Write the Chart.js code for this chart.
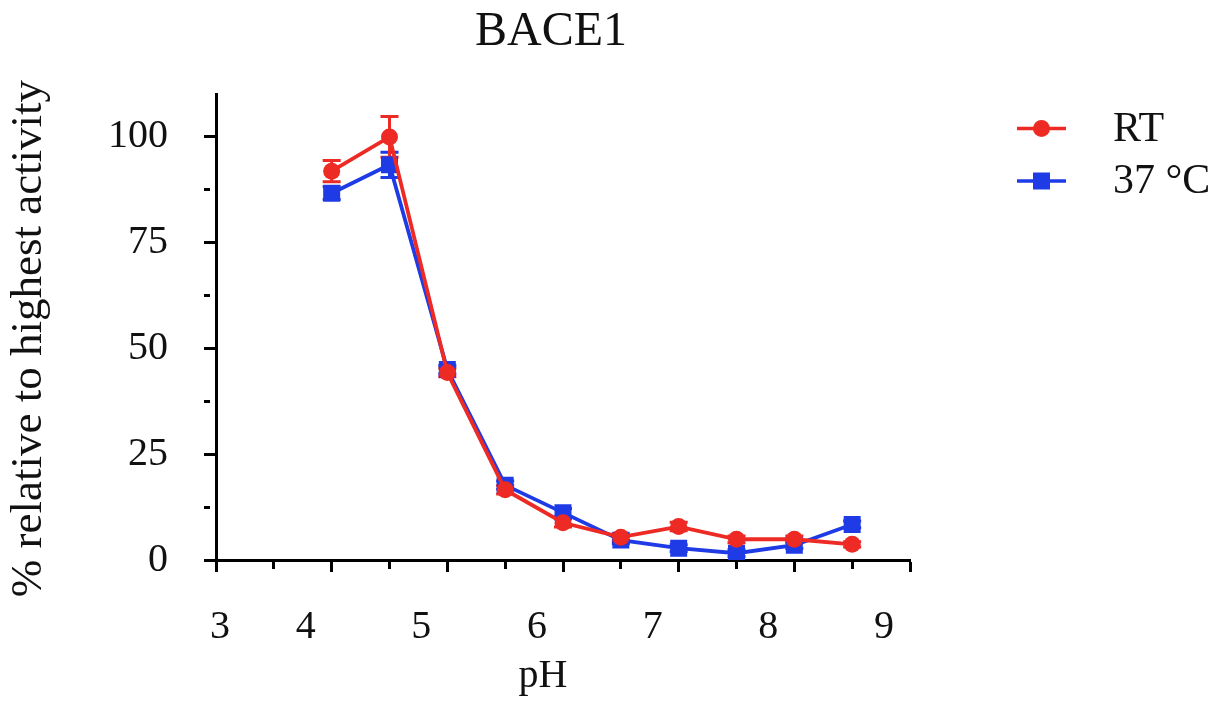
<!DOCTYPE html>
<html>
<head>
<meta charset="utf-8">
<title>BACE1</title>
<script src="https://cdn.jsdelivr.net/npm/chart.js@4.4.1/dist/chart.umd.min.js"></script>
<style>
  html, body { margin: 0; padding: 0; background: #fff; }
  #wrap { width: 1223px; height: 704px; }
</style>
</head>
<body>
<div id="wrap"><canvas id="bace1Chart" width="1223" height="704"></canvas></div>
<script>
/* =========================
   DATA
========================= */
const phValues = [4, 4.5, 5, 5.5, 6, 6.5, 7, 7.5, 8, 8.5];
const rtValues = [91.9, 100, 44.3, 16.6, 8.8, 5.4, 7.9, 4.9, 4.9, 3.7];
const rtErrors = [2.5, 4.8, 1, 1, 1, 0.8, 1, 0.8, 0.8, 0.6];
const c37Values = [86.7, 93.4, 45, 17.7, 11.2, 4.7, 2.8, 1.6, 3.5, 8.4];
const c37Errors = [1.5, 3, 1, 1, 1, 0.8, 0.8, 0.8, 0.8, 0.8];
const seriesNames = ["RT", "37 °C"];
const xTickLabels = ["3", "4", "5", "6", "7", "8", "9"];
const yTickLabels = ["0", "25", "50", "75", "100"];

const RED = "#ee2a24";
const BLUE = "#1e3be6";
const FONT = "'Liberation Serif', 'Times New Roman', serif";

function toPoints(xs, ys) {
  return xs.map((x, i) => ({ x: x, y: ys[i] }));
}

/* =========================
   ERROR BARS (drawn under markers)
========================= */
const errorBars = {
  id: "errorBars",
  beforeDatasetsDraw(chart) {
    const { ctx, scales: { x, y } } = chart;
    const errs = [rtErrors, c37Errors];
    ctx.save();
    ctx.lineWidth = 3;
    for (let d = chart.data.datasets.length - 1; d >= 0; d--) {
      const ds = chart.data.datasets[d];
      ctx.strokeStyle = ds.borderColor;
      ds.data.forEach((p, i) => {
        const e = errs[d][i];
        const px = x.getPixelForValue(p.x);
        const top = y.getPixelForValue(p.y + e);
        const bot = y.getPixelForValue(p.y - e);
        ctx.beginPath();
        ctx.moveTo(px, top); ctx.lineTo(px, bot);
        ctx.moveTo(px - 9, top); ctx.lineTo(px + 9, top);
        ctx.moveTo(px - 9, bot); ctx.lineTo(px + 9, bot);
        ctx.stroke();
      });
    }
    ctx.restore();
  }
};

/* =========================
   LEGEND (line + marker, right side)
========================= */
const sideLegend = {
  id: "sideLegend",
  afterDraw(chart) {
    const ctx = chart.ctx;
    ctx.save();
    chart.data.datasets.forEach((ds, i) => {
      const cy = 128.5 + i * 52.5;
      ctx.strokeStyle = ds.borderColor;
      ctx.fillStyle = ds.backgroundColor;
      ctx.lineWidth = 3.3;
      ctx.beginPath();
      ctx.moveTo(1017, cy);
      ctx.lineTo(1066, cy);
      ctx.stroke();
      ctx.beginPath();
      if (ds.pointStyle === "rect") {
        ctx.rect(1041.5 - 8.5, cy - 8.5, 17, 17);
      } else {
        ctx.arc(1041.5, cy, 8.5, 0, Math.PI * 2);
      }
      ctx.fill();
      ctx.fillStyle = "#111";
      ctx.font = "42px " + FONT;
      ctx.textAlign = "left";
      ctx.textBaseline = "middle";
      ctx.fillText(ds.label, 1113, cy + 1);
    });
    ctx.restore();
  }
};

/* =========================
   CHART
========================= */
(function initChart() {
  const canvas = document.getElementById("bace1Chart");
  if (!canvas || typeof window.Chart === "undefined") return;

  new Chart(canvas, {
    type: "line",
    data: {
      datasets: [
        {
          label: seriesNames[0],
          data: toPoints(phValues, rtValues),
          borderColor: RED,
          backgroundColor: RED,
          borderWidth: 3.8,
          pointStyle: "circle",
          pointRadius: 8.5,
          pointBorderWidth: 0,
          pointHoverRadius: 8.5
        },
        {
          label: seriesNames[1],
          data: toPoints(phValues, c37Values),
          borderColor: BLUE,
          backgroundColor: BLUE,
          borderWidth: 3.8,
          pointStyle: "rect",
          pointRadius: 12,
          pointBorderWidth: 0,
          pointHoverRadius: 12
        }
      ]
    },
    options: {
      responsive: false,
      animation: false,
      layout: { padding: { left: 0, right: 313, top: 0, bottom: 0 } },
      plugins: {
        legend: { display: false },
        tooltip: { enabled: false },
        title: {
          display: true,
          // trailing spaces nudge the centred title slightly left, like the original
          text: "BACE1  ",
          fullSize: false,
          color: "#111",
          font: { family: FONT, size: 48, weight: "normal" },
          padding: { top: 4, bottom: 33 }
        }
      },
      scales: {
        x: {
          type: "linear",
          min: 3,
          max: 9,
          afterFit: s => { s.height = 144; },
          border: { color: "#000", width: 3 },
          grid: {
            drawOnChartArea: false,
            tickLength: 12,
            tickWidth: 3,
            tickColor: "#000",
            // half-unit ticks are short: dash cuts them at 7px
            tickBorderDash: c => (c.tick && c.tick.value % 1 !== 0) ? [7, 40] : []
          },
          ticks: {
            stepSize: 0.5,
            autoSkip: false,
            maxRotation: 0,
            color: "#111",
            padding: 31,
            labelOffset: -26,
            font: { family: FONT, size: 40 },
            callback: v => {
              if (v % 1 !== 0) return "";
              const lbl = xTickLabels[v - 3];
              // the "3" in the source sits right of the others' offset
              return v === 3 ? "      " + lbl : lbl;
            }
          },
          title: {
            display: true,
            text: "pH    ",
            color: "#111",
            font: { family: FONT, size: 40 },
            padding: { top: 0, bottom: 4 }
          }
        },
        y: {
          min: 0,
          max: 110,
          afterFit: s => { s.width = 216; },
          border: { color: "#000", width: 3 },
          grid: {
            drawOnChartArea: false,
            tickLength: 12,
            tickWidth: 3,
            tickColor: "#000",
            tickBorderDash: c => (c.tick && c.tick.value % 25 !== 0) ? [6, 40] : []
          },
          ticks: {
            stepSize: 12.5,
            includeBounds: false,
            autoSkip: false,
            color: "#111",
            padding: 36,
            font: { family: FONT, size: 40 },
            callback: v => (v % 25 === 0 ? yTickLabels[v / 25] : "")
          },
          title: {
            display: true,
            text: "% relative to highest activity  ",
            color: "#111",
            font: { family: FONT, size: 45 },
            padding: { top: 2, bottom: 0 }
          }
        }
      }
    },
    plugins: [errorBars, sideLegend]
  });
})();
</script>
</body>
</html>
